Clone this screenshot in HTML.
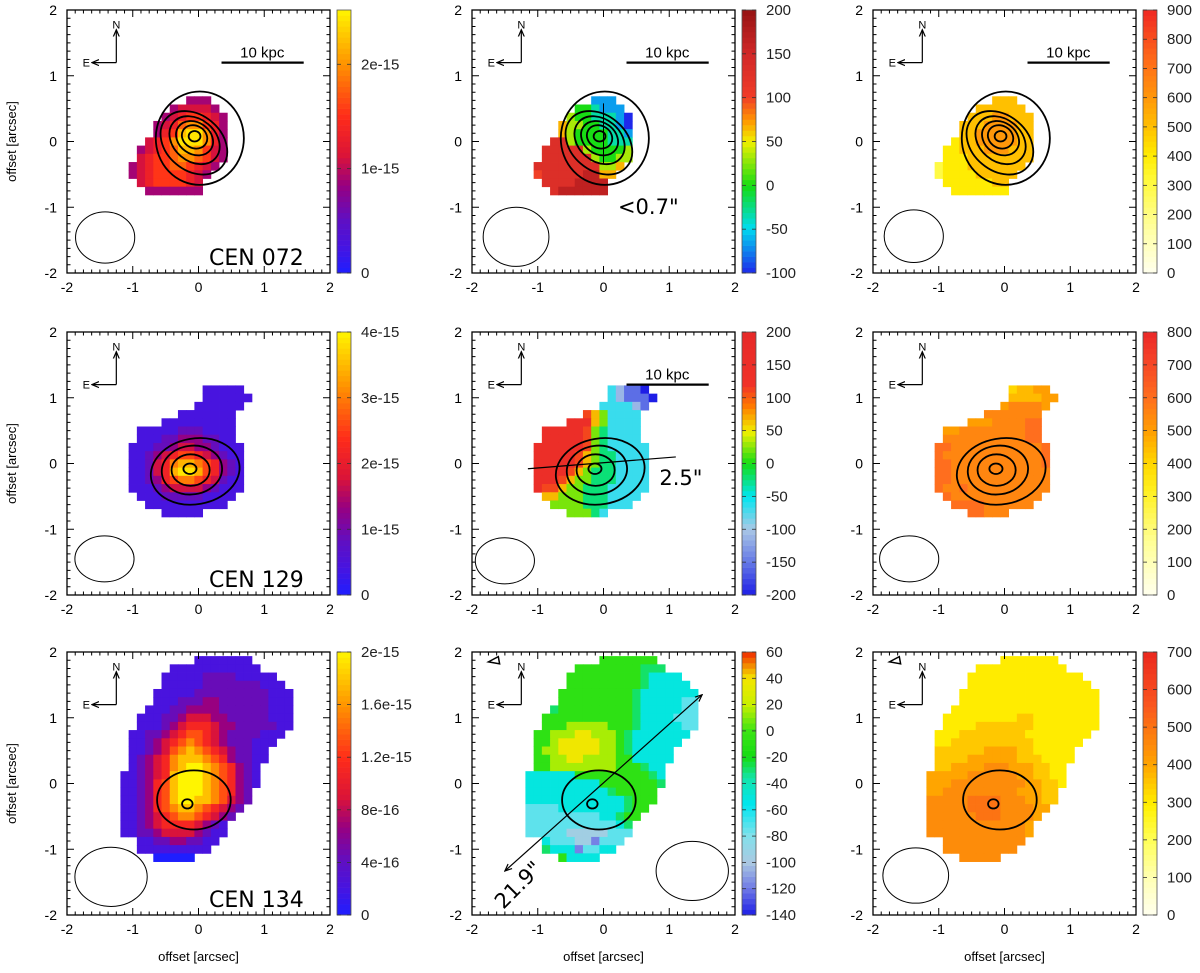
<!DOCTYPE html>
<html><head><meta charset="utf-8"><style>
html,body{margin:0;padding:0;background:#fff;}
svg{display:block;font-family:"Liberation Sans",sans-serif;}
</style></head><body>
<svg id="fig" width="1200" height="973" viewBox="0 0 1200 973" xmlns="http://www.w3.org/2000/svg">
<defs>
<marker id="ah" markerWidth="8" markerHeight="8" refX="7" refY="4" orient="auto" markerUnits="userSpaceOnUse"><path d="M0,1 L7,4 L0,7" fill="none" stroke="#000" stroke-width="1.2"/></marker>
<marker id="ah2" markerWidth="8" markerHeight="8" refX="7" refY="4" orient="auto-start-reverse" markerUnits="userSpaceOnUse"><path d="M0,1 L7,4 L0,7" fill="none" stroke="#000" stroke-width="1.2"/></marker>
</defs>
</svg>
<script>
// ---------- data ----------
// each map: [rowIndex j (y = 2 - 0.125*j), first column i (x = -2 + 0.125*i), level digits]
const map072Flux = [[11,15,"222"],[12,13,"233332"],[13,12,"23455432"],[14,11,"234677542"],[15,11,"245899742"],[16,10,"3457999742"],[17,9,"23456887532"],[18,9,"34556776532"],[19,8,"23455665432"],[20,8,"2345555432"],[21,9,"34555543"],[22,10,"2222222"]];
const map072Vel = [[11,15,"111"],[12,13,"332111"],[13,12,"43322210"],[14,11,"544332210"],[15,11,"543333221"],[16,10,"7743333222"],[17,9,"77777433334"],[18,9,"77777743344"],[19,8,"77777777445"],[20,8,"6777778855"],[21,9,"77778888"],[22,10,"7888888"]];
const map072Disp = [[11,15,"555"],[12,13,"555555"],[13,12,"55566555"],[14,11,"555666655"],[15,11,"556666655"],[16,10,"4556666655"],[17,9,"44555666555"],[18,9,"44455555555"],[19,8,"34445555555"],[20,8,"3444455555"],[21,9,"44444455"],[22,10,"4444444"]];
const map129Flux = [[7,17,"11111"],[8,17,"111111"],[9,16,"111111"],[10,14,"1111111"],[11,12,"111111111"],[12,9,"111112221111"],[13,9,"111223332211"],[14,8,"11122344332111"],[15,8,"11234566543211"],[16,8,"11245788765321"],[17,8,"11245899865321"],[18,8,"11235677654211"],[19,8,"11123444432111"],[20,9,"111222221111"],[21,10,"1111111111"],[22,12,"11111"]];
const map129Vel = [[7,17,"32110"],[8,17,"321110"],[9,16,"333321"],[10,14,"7653333"],[11,12,"888653333"],[12,9,"888887543333"],[13,9,"888887543333"],[14,8,"88888875433333"],[15,8,"88888765443333"],[16,8,"88888765443333"],[17,8,"88887654443333"],[18,8,"88876554443333"],[19,8,"87765544433333"],[20,9,"665554443333"],[21,10,"5555444333"],[22,12,"55543"]];
const map129Disp = [[7,17,"34455"],[8,17,"444455"],[9,16,"566665"],[10,14,"6666666"],[11,12,"555666677"],[12,9,"556666666677"],[13,9,"666666666677"],[14,8,"77666666666667"],[15,8,"76666666666667"],[16,8,"77666666666667"],[17,8,"77666666666666"],[18,8,"77666666666666"],[19,8,"76676666666666"],[20,9,"766666666666"],[21,10,"7777666666"],[22,12,"77666"]];
const map134Flux = [[1,16,"1111111"],[2,13,"11111111111"],[3,12,"11111222211111"],[4,12,"111112222222111"],[5,11,"11111222222222111"],[6,11,"11122233222222111"],[7,10,"111223333222222111"],[8,9,"1112234443322222111"],[9,9,"1112345554332222211"],[10,8,"1122345665432222111"],[11,8,"112345676543222111"],[12,8,"11234678765432211"],[13,8,"12345788876532211"],[14,8,"1234578998765321"],[15,7,"11234589998765321"],[16,7,"11235689998765321"],[17,7,"1123568999876532"],[18,7,"1123568998876432"],[19,7,"112356788765432"],[20,7,"11234567765432"],[21,7,"1123455554321"],[22,7,"1122344443211"],[23,9,"1122332211"],[24,9,"111111111"],[25,11,"00000"]];
const map134Vel = [[1,16,"6666666"],[2,13,"66666666555"],[3,12,"66666666654444"],[4,12,"666666666544444"],[5,11,"66666666654444444"],[6,11,"66666666654444433"],[7,10,"566666666654444433"],[8,9,"6666666666654444333"],[9,9,"6667777766654444433"],[10,8,"6677788777654444444"],[11,8,"667888887765444444"],[12,8,"67788888776544444"],[13,8,"66778877776644444"],[14,8,"6677777777666544"],[15,7,"44444466666666654"],[16,7,"44444444466666665"],[17,7,"4444444444566666"],[18,7,"4444444444445666"],[19,7,"333344444444566"],[20,7,"33333333344566"],[21,7,"3333333333345"],[22,7,"3333322222333"],[23,9,"4333221333"],[24,9,"544413344"],[25,11,"64444"]];
const map134Disp = [[1,16,"5555555"],[2,13,"55555555555"],[3,12,"55555555555555"],[4,12,"555555555555555"],[5,11,"55555555555555555"],[6,11,"55555555555555555"],[7,10,"555555555555555555"],[8,9,"5555555556655555555"],[9,9,"5555666666655555555"],[10,8,"5556666666655555555"],[11,8,"556666666666555555"],[12,8,"66666677776655555"],[13,8,"66667777776665555"],[14,8,"6677778887776655"],[15,7,"77777888888776655"],[16,7,"77788888888877665"],[17,7,"7788888888877766"],[18,7,"8888899998887766"],[19,7,"888889999888877"],[20,7,"88888899988887"],[21,7,"8888888888887"],[22,7,"8888888888887"],[23,9,"8888888888"],[24,9,"888888888"],[25,11,"88888"]];

// level -> value: value = base + digit*step
const levelBase = [[0.45e-15,-100,0],[0,-200,250],[0,-140,50]];
const levelStep = [[0.22e-15,33.3,100],[0.43e-15,44.4,50],[0.222e-15,22.2,50]];
// colorbar ranges
const cbMin = [[0,-100,0],[0,-200,0],[0,-140,0]];
const cbMax = [[2.52e-15,200,900],[4e-15,200,800],[2e-15,60,700]];
const cbTicks = [
 [[0,1e-15,2e-15],[-100,-50,0,50,100,150,200],[0,100,200,300,400,500,600,700,800,900]],
 [[0,1e-15,2e-15,3e-15,4e-15],[-200,-150,-100,-50,0,50,100,150,200],[0,100,200,300,400,500,600,700,800]],
 [[0,4e-16,8e-16,1.2e-15,1.6e-15,2e-15],[-140,-120,-100,-80,-60,-40,-20,0,20,40,60],[0,100,200,300,400,500,600,700]]];
const cbTickLabels = [
 [["0","1e-15","2e-15"],null,null],
 [["0","1e-15","2e-15","3e-15","4e-15"],null,null],
 [["0","4e-16","8e-16","1.2e-15","1.6e-15","2e-15"],null,null]];
// contours per row: [cx, cy, rx, ry, angleDeg]
const contours072 = [[0.02,0.05,0.67,0.71,0],[-0.07,-0.02,0.56,0.42,40],[-0.06,0.02,0.42,0.32,40],[-0.06,0.05,0.3,0.24,35],[-0.06,0.07,0.2,0.17,30],[-0.06,0.08,0.09,0.08,0]];
const contours129 = [[-0.05,-0.12,0.68,0.5,-10],[-0.1,-0.1,0.46,0.37,-8],[-0.12,-0.1,0.29,0.24,0],[-0.13,-0.08,0.1,0.08,0]];
const contours134 = [[-0.07,-0.25,0.56,0.45,0],[-0.17,-0.31,0.08,0.07,0]];
// beams: [cx, cy, rx, ry] per row/col
const beams = [[[-1.42,-1.46,0.45,0.39],[-1.33,-1.45,0.5,0.45],[-1.38,-1.44,0.45,0.4]],
 [[-1.43,-1.45,0.45,0.35],[-1.5,-1.48,0.45,0.35],[-1.45,-1.45,0.45,0.35]],
 [[-1.33,-1.42,0.55,0.45],[1.35,-1.33,0.55,0.45],[-1.35,-1.4,0.5,0.42]]];
const xTicks = [-2,-1,0,1,2];
const yTicks = [2,1,0,-1,-2];

// ---------- layout ----------
const colX = [67,472,873], rowY = [10,332,652], SZ = 263, PX = SZ/4;
const svg = document.getElementById('fig');
const NS = 'http://www.w3.org/2000/svg';
function mk(tag, attrs, parent){ const e=document.createElementNS(NS,tag); for(const k in attrs) e.setAttribute(k,attrs[k]); (parent||svg).appendChild(e); return e; }
function X(c,v){ return colX[c]+(v+2)*PX; }
function Y(r,v){ return rowY[r]+(2-v)*PX; }

const fluxPalette = [[0,[30,30,255]],[0.1,[70,20,225]],[0.2,[95,15,195]],[0.33,[150,0,130]],[0.45,[220,20,55]],[0.6,[255,45,25]],[0.8,[255,150,0]],[1,[255,245,0]]];
const dispPalettes = [
 [[0,[255,255,238]],[0.15,[255,255,170]],[0.35,[255,250,60]],[0.45,[255,235,0]],[0.56,[255,190,0]],[0.67,[255,150,10]],[0.8,[255,110,25]],[1,[240,40,35]]],
 [[0,[255,255,238]],[0.2,[255,255,150]],[0.4,[255,240,30]],[0.5,[255,215,0]],[0.62,[255,160,0]],[0.75,[255,110,30]],[0.9,[245,65,40]],[1,[235,40,40]]],
 [[0,[255,255,238]],[0.14,[255,255,180]],[0.28,[255,255,90]],[0.42,[255,240,0]],[0.57,[255,165,0]],[0.8,[250,85,30]],[1,[235,40,30]]]];
const velPalettes = [
 [[0,[30,40,235]],[0.17,[0,220,240]],[0.33,[20,220,20]],[0.5,[240,240,0]],[0.58,[255,150,0]],[0.67,[240,60,40]],[0.83,[210,40,40]],[1,[150,20,20]]],
 [[0,[30,30,230]],[0.125,[100,120,230]],[0.25,[170,200,230]],[0.375,[0,230,240]],[0.5,[20,220,20]],[0.62,[240,240,0]],[0.72,[255,120,0]],[0.8,[240,50,40]],[1,[230,40,40]]],
 [[0,[30,30,230]],[0.1,[110,120,230]],[0.2,[170,200,225]],[0.3,[130,225,235]],[0.42,[0,230,240]],[0.52,[20,228,170]],[0.6,[20,220,20]],[0.7,[60,228,20]],[0.8,[200,240,0]],[0.9,[245,230,0]],[1,[240,40,0]]]];
function pal(r,c){ return c===0?fluxPalette:(c===1?velPalettes[r]:dispPalettes[r]); }
function colorAt(stops,t){
 t=Math.max(0,Math.min(1,t));
 for(let k=1;k<stops.length;k++){ if(t<=stops[k][0]){ const a=stops[k-1],b=stops[k]; const f=(t-a[0])/(b[0]-a[0]||1);
  return 'rgb('+a[1].map((v,i)=>Math.round(v+(b[1][i]-v)*f)).join(',')+')'; } }
 return 'rgb('+stops[stops.length-1][1].join(',')+')';
}
const maps = [[map072Flux,map072Vel,map072Disp],[map129Flux,map129Vel,map129Disp],[map134Flux,map134Vel,map134Disp]];
const contourSets = [contours072,contours129,contours134];
const names = ['CEN 072','CEN 129','CEN 134'];

for(let r=0;r<3;r++) for(let c=0;c<3;c++){
 const g = mk('g',{});
 
 
 const stops = pal(r,c), lo=cbMin[r][c], hi=cbMax[r][c];
 maps[r][c].forEach(row=>{
  const j=row[0], i0=row[1], s=row[2];
  for(let k=0;k<s.length;k++){
   const val = levelBase[r][c] + (+s[k])*levelStep[r][c];
   const cx = -2+0.125*(i0+k), cy = 2-0.125*j;
   const cell = mk('rect',{x:X(c,cx-0.0625),y:Y(r,cy+0.0625),width:0.125*PX+0.4,height:0.125*PX+0.4,fill:colorAt(stops,(val-lo)/(hi-lo))},g);
   
   
  }
 });
 contourSets[r].forEach(ct=>{
  const e = mk('ellipse',{cx:X(c,ct[0]),cy:Y(r,ct[1]),rx:ct[2]*PX,ry:ct[3]*PX,fill:'none',stroke:'#000','stroke-width':1.8,transform:'rotate('+ct[4]+' '+X(c,ct[0])+' '+Y(r,ct[1])+')'},g);
  
  
 });
 if(r===2 && c>0){
  const tri = mk('path',{d:'M'+X(c,-1.75)+','+Y(r,1.85)+' L'+X(c,-1.6)+','+Y(r,1.93)+' L'+X(c,-1.58)+','+Y(r,1.82)+' Z',fill:'none',stroke:'#000','stroke-width':1.5},g);
  
  
 }
 const b = beams[r][c];
 const be = mk('ellipse',{cx:X(c,b[0]),cy:Y(r,b[1]),rx:b[2]*PX,ry:b[3]*PX,fill:'none',stroke:'#000','stroke-width':1},g);
 
 
 const cmp = mk('g',{stroke:'#000','stroke-width':1.2,fill:'none'},g);
 
 
 mk('line',{x1:X(c,-1.25),y1:Y(r,1.2),x2:X(c,-1.25),y2:Y(r,1.7),'marker-end':'url(#ah)'},cmp);
 mk('line',{x1:X(c,-1.25),y1:Y(r,1.2),x2:X(c,-1.62),y2:Y(r,1.2),'marker-end':'url(#ah)'},cmp);
 const nt = mk('text',{x:X(c,-1.25),y:Y(r,1.72),'font-size':11,'text-anchor':'middle',fill:'#000'},g); nt.textContent='N';
 
 
 const et = mk('text',{x:X(c,-1.65),y:Y(r,1.2)+4,'font-size':11,'text-anchor':'end',fill:'#000'},g); et.textContent='E';
 
 
 if(r===0 || (r===1&&c===1)){
  const sb = mk('line',{x1:X(c,0.35),y1:Y(r,1.2),x2:X(c,1.6),y2:Y(r,1.2),stroke:'#000','stroke-width':2.2},g);
  
  
  const st = mk('text',{x:X(c,0.97),y:Y(r,1.28),'font-size':15,'text-anchor':'middle',fill:'#000'},g); st.textContent='10 kpc';
  
  
 }
 if(c===0){
  const nm = mk('text',{x:X(c,1.6),y:Y(r,-1.88),'font-size':22,'text-anchor':'end',fill:'#000',style:'font-family:"DejaVu Sans",sans-serif'},g); nm.textContent=names[r];
  
  
 }
 const fr = mk('rect',{x:colX[c],y:rowY[r],width:SZ,height:SZ,fill:'none',stroke:'#000','stroke-width':1.3},g);
 
 
 let d='';
 for(let k=0;k<=32;k++){
  const v=-2+k*0.125, L=(k%8===0)?7:3.5;
  const xx=X(c,v), yy=Y(r,v);
  d+='M'+xx+','+(rowY[r]+SZ)+'v'+(-L)+'M'+xx+','+rowY[r]+'v'+L;
  d+='M'+colX[c]+','+yy+'h'+L+'M'+(colX[c]+SZ)+','+yy+'h'+(-L);
 }
 const tk = mk('path',{d:d,stroke:'#000','stroke-width':1,fill:'none'},g);
 
 
 xTicks.forEach(v=>{ const t=mk('text',{x:X(c,v),y:rowY[r]+SZ+19,'font-size':14,'text-anchor':'middle',fill:'#000'},g); t.textContent=String(v);
  
   });
 yTicks.forEach(v=>{ const t=mk('text',{x:colX[c]-10,y:Y(r,v)+5,'font-size':14,'text-anchor':'end',fill:'#000'},g); t.textContent=String(v);
  
   });
 if(c===0){
  const yl = mk('text',{x:16,y:rowY[r]+SZ/2,'font-size':13,'text-anchor':'middle',fill:'#000',transform:'rotate(-90 16 '+(rowY[r]+SZ/2)+')'},g); yl.textContent='offset [arcsec]';
  
  
 }
 if(r===2){
  const xl = mk('text',{x:colX[c]+SZ/2,y:961,'font-size':13,'text-anchor':'middle',fill:'#000'},g); xl.textContent='offset [arcsec]';
  
  
 }
 const cbx = colX[c]+SZ+7, cbw=14, N=48;
 const cb = mk('g',{},g);
 
 
 for(let k=0;k<N;k++){
  mk('rect',{x:cbx,y:rowY[r]+SZ-(k+1)*SZ/N,width:cbw,height:SZ/N+0.3,fill:colorAt(stops,(k+0.5)/N)},cb);
 }
 mk('rect',{x:cbx,y:rowY[r],width:cbw,height:SZ,fill:'none',stroke:'#555','stroke-width':0.8},cb);
 cbTicks[r][c].forEach((v,n)=>{
  const yy = rowY[r]+SZ-(v-lo)/(hi-lo)*SZ;
  mk('line',{x1:cbx,y1:yy,x2:cbx+4,y2:yy,stroke:'#333','stroke-width':0.8},cb);
  mk('line',{x1:cbx+cbw-4,y1:yy,x2:cbx+cbw,y2:yy,stroke:'#333','stroke-width':0.8},cb);
  const lab = cbTickLabels[r][c] ? cbTickLabels[r][c][n] : String(v);
  const t = mk('text',{x:cbx+cbw+10,y:yy+5,'font-size':15,fill:'#222'},cb); t.textContent=lab;
  
  
 });
}
(function(){
 const a1 = mk('line',{x1:X(1,0),y1:Y(0,0.58),x2:X(1,0),y2:Y(0,-0.35),stroke:'#000','stroke-width':1});
 
 
 const t1 = mk('text',{x:X(1,0.22),y:Y(0,-1.1),'font-size':21,fill:'#000',style:'font-family:"DejaVu Sans",sans-serif'}); t1.textContent='<0.7"';
 
 
 const a2 = mk('line',{x1:X(1,-1.15),y1:Y(1,-0.08),x2:X(1,1.1),y2:Y(1,0.1),stroke:'#000','stroke-width':1.2});
 
 
 const t2 = mk('text',{x:X(1,0.85),y:Y(1,-0.33),'font-size':21,fill:'#000',style:'font-family:"DejaVu Sans",sans-serif'}); t2.textContent='2.5"';
 
 
 const a3 = mk('line',{x1:X(1,-1.5),y1:Y(2,-1.33),x2:X(1,1.5),y2:Y(2,1.35),stroke:'#000','stroke-width':1.2,'marker-start':'url(#ah2)','marker-end':'url(#ah)'});
 
 
 const tx=X(1,-1.22), ty=Y(2,-1.62);
 const t3 = mk('text',{x:tx,y:ty,'font-size':21,fill:'#000','text-anchor':'middle',transform:'rotate(-45 '+tx+' '+ty+')',style:'font-family:"DejaVu Sans",sans-serif'}); t3.textContent='21.9"';
 
 
})();
</script>
</body></html>
